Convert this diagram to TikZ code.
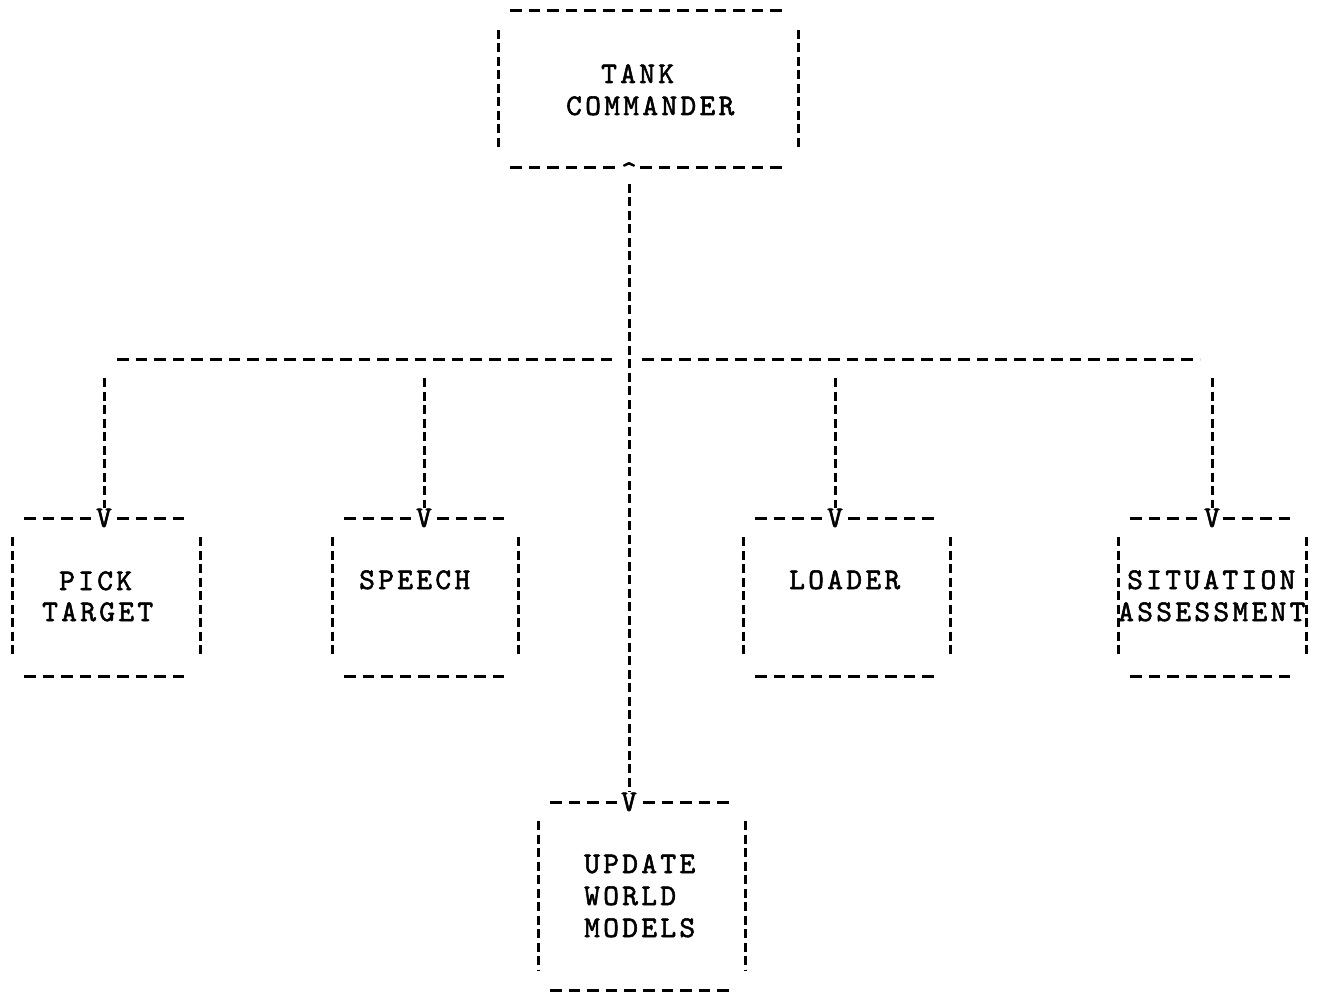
\documentclass[tikz,border=0pt]{standalone}
\usepackage{fontspec}
\newfontfamily\tw{lmmono10-regular.otf}[LetterSpace=11,FakeBold=1.8]
\tikzset{
  every picture/.style={x=1pt,y=-1pt},
  hline/.style={line width=3pt, dash pattern=on 11.5pt off 7.1pt},
  vline/.style={line width=3pt, dash pattern=on 9pt off 4.5pt},
  txt/.style={font=\tw\fontsize{30}{32}\selectfont, inner sep=0pt, anchor=base west},
  tip/.style={font=\tw\fontsize{30}{32}\selectfont, inner sep=0.6pt, fill=white, anchor=base},
  frame/.style={inner sep=0pt, outer sep=0pt, draw=none}
}
% open typewriter box: dashed sides that stop short of the corners
\newcommand\twframe[1]{%
  \draw[hline] ([xshift=12pt]#1.north west) -- ([xshift=-12pt]#1.north east);
  \draw[hline] ([xshift=12pt]#1.south west) -- ([xshift=-12pt]#1.south east);
  \draw[vline] ([yshift=-19pt]#1.north west) -- ([yshift=19pt]#1.south west);
  \draw[vline] ([yshift=-19pt]#1.north east) -- ([yshift=19pt]#1.south east);
}
\begin{document}
\begin{tikzpicture}
\fill[white] (0,0) rectangle (1327,992);

% box outlines
\node[frame, minimum width=300pt, minimum height=157pt] (tc) at (648,89.5) {};
\node[frame, minimum width=188pt, minimum height=158pt] (pt) at (106,597) {};
\node[frame, minimum width=186pt, minimum height=158pt] (sp) at (425,597) {};
\node[frame, minimum width=207pt, minimum height=158pt] (ld) at (846.5,597) {};
\node[frame, minimum width=188pt, minimum height=158pt] (sa) at (1212,597) {};
\node[frame, minimum width=207pt, minimum height=188pt] (uw) at (641.5,896) {};
\twframe{tc}
\twframe{pt}
\twframe{sp}
\twframe{ld}
\twframe{sa}
\twframe{uw}

% box texts
\node[txt] (tc1) at (601,83) {TANK};
\node[txt] (tc2) at (566,115) {COMMANDER};
\node[txt] (pt1) at (59,590) {PICK};
\node[txt] (pt2) at (42,621) {TARGET};
\node[txt] (sp1) at (359,589) {SPEECH};
\node[txt] (ld1) at (789,589) {LOADER};
\node[txt] (sa1) at (1127,589) {SITUATION};
\node[txt] (sa2) at (1118,621) {ASSESSMENT};
\node[txt] (uw1) at (584,873) {UPDATE};
\node[txt] (uw2) at (584,905) {WORLD};
\node[txt] (uw3) at (584,937) {MODELS};

% arrow marks typed into the box edges
\node[tip] (tcup) at (629,181) {\textasciicircum};
\node[tip] (ptv) at (104,527) {V};
\node[tip] (spv) at (424,527) {V};
\node[tip] (ldv) at (835,527) {V};
\node[tip] (sav) at (1212,527) {V};
\node[tip] (uwv) at (629,811) {V};

% distribution bar
\coordinate (barL) at (117,359);
\coordinate (barLm) at (617,359);
\coordinate (barRm) at (642,359);
\coordinate (barR) at (1200,359);
\draw[hline] (barL) -- (barLm);
\draw[hline] (barRm) -- (barR);

% trunk from the commander to the world models
\draw[vline] (tcup.south) ++(0,2) -- (uwv.north);

% stems down to each task box
\coordinate (ptj) at (104,378);
\coordinate (spj) at (424,378);
\coordinate (ldj) at (835,378);
\coordinate (saj) at (1212,378);
\draw[vline] (ptj) -- (ptv.north);
\draw[vline] (spj) -- (spv.north);
\draw[vline] (ldj) -- (ldv.north);
\draw[vline] (saj) -- (sav.north);
\end{tikzpicture}
\end{document}
